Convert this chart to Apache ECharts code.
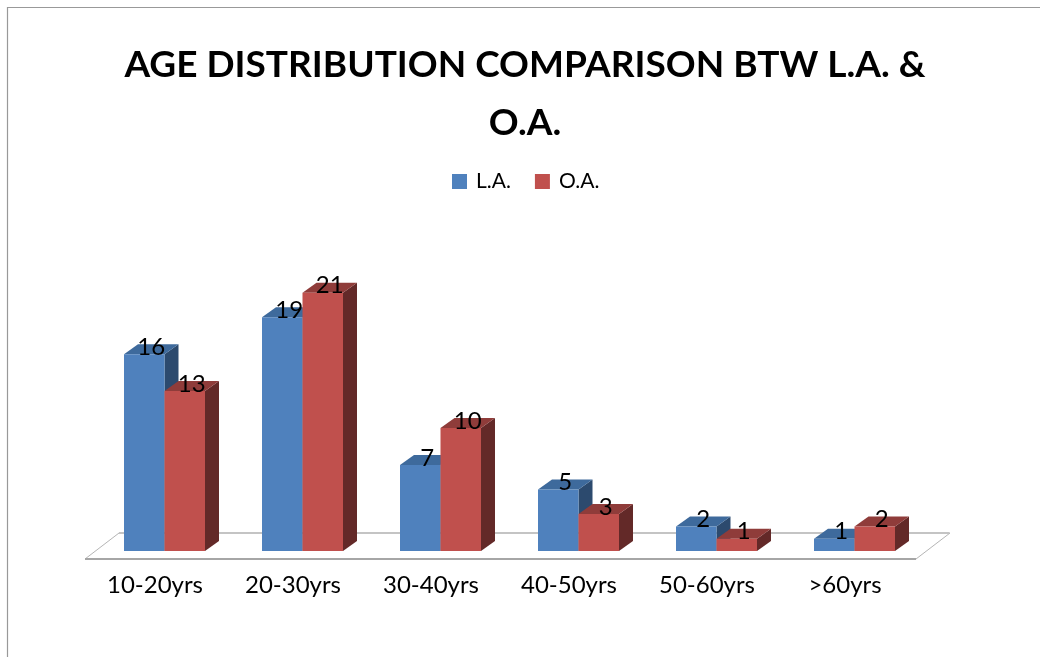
<!DOCTYPE html>
<html>
<head>
<meta charset="utf-8">
<style>html,body{margin:0;padding:0;background:#fff}#c{width:1040px;height:657px}</style>
<script src="https://cdn.jsdelivr.net/npm/echarts@6/dist/echarts.min.js"></script>
</head>
<body>
<div id="c"></div>
<script>
const titleText = 'AGE DISTRIBUTION COMPARISON BTW L.A. &\nO.A.';
const categories = ['10-20yrs', '20-30yrs', '30-40yrs', '40-50yrs', '50-60yrs', '>60yrs'];
const laValues = [16, 19, 7, 5, 2, 1];
const oaValues = [13, 21, 10, 3, 1, 2];

const FONT = 'Lato';
const DX = 14, DY = 10, BAR_W = 40.5, SHIFT = 9.5;

function barRenderer(slot, front, top, side) {
  return function (params, api) {
    const idx = api.value(0), val = api.value(1);
    const p = api.coord([idx, val]);
    const b = api.coord([idx, 0]);
    const x0 = p[0] + SHIFT + (slot === 0 ? -BAR_W : 0);
    const x1 = x0 + BAR_W, yT = p[1], yB = b[1];
    return {
      type: 'group',
      children: [
        { type: 'polygon', shape: { points: [[x1, yT], [x1 + DX, yT - DY], [x1 + DX, yB - DY], [x1, yB]] }, style: { fill: side } },
        { type: 'polygon', shape: { points: [[x0, yT], [x0 + DX, yT - DY], [x1 + DX, yT - DY], [x1, yT]] }, style: { fill: top } },
        { type: 'rect', shape: { x: x0, y: yT, width: BAR_W, height: yB - yT }, style: { fill: front } },
        { type: 'text', z2: 100, style: { x: (x0 + x1) / 2 + DX / 2, y: yT - DY / 2 - 2, text: String(val), fill: '#000', font: '24px ' + FONT, align: 'center', verticalAlign: 'middle' } }
      ]
    };
  };
}

function floorRenderer(params, api) {
  const cs = params.coordSys;
  const xL = cs.x - 1, xR = cs.x + cs.width + 2;
  const yF = api.coord([0, 0])[1] + 8, yB = yF - 26, d = 34;
  return {
    type: 'group',
    children: [
      { type: 'polyline', shape: { points: [[xL, yF], [xL + d, yB], [xR + d, yB], [xR, yF]] }, style: { fill: 'none', stroke: '#b5b5b5', lineWidth: 1 } },
      { type: 'line', shape: { x1: xL + d, y1: yB, x2: xR + d - 1, y2: yB }, style: { stroke: '#c4c4c4', lineWidth: 2 } },
      { type: 'line', shape: { x1: xL, y1: yF, x2: xR, y2: yF }, style: { stroke: '#a6a6a6', lineWidth: 2 } }
    ]
  };
}

const chart = echarts.init(document.getElementById('c'), null, { renderer: 'canvas' });
chart.setOption({
  animation: false,
  backgroundColor: '#fff',
  title: {
    text: titleText, left: 520, top: 31, textAlign: 'center',
    textStyle: { fontFamily: FONT, fontWeight: 'bold', fontSize: 37, lineHeight: 58, color: '#000' }
  },
  legend: {
    left: 447, top: 166, icon: 'rect', itemWidth: 15, itemHeight: 15, itemGap: 24,
    textStyle: { fontFamily: FONT, fontSize: 21, color: '#000', padding: [0, 0, 0, 4] },
    data: [{ name: 'L.A.', itemStyle: { color: '#4f81bd' } }, { name: 'O.A.', itemStyle: { color: '#c0504d' } }]
  },
  grid: { left: 86, top: 243.5, width: 828, height: 307.5 },
  xAxis: {
    type: 'category', data: categories,
    axisLine: { show: false }, axisTick: { show: false },
    axisLabel: { margin: 22, fontFamily: FONT, fontSize: 24, color: '#000', interval: 0 }
  },
  yAxis: { type: 'value', min: 0, max: 25, interval: 5, show: false, splitLine: { show: false } },
  graphic: [{
    type: 'polyline', silent: true, z: -1,
    shape: { points: [[7.5, 700], [7.5, 7.5], [1100, 7.5]] },
    style: { fill: 'none', stroke: '#999', lineWidth: 1.2 }
  }],
  series: [
    { type: 'custom', name: 'floor', silent: true, z: 1, renderItem: floorRenderer, data: [[0, 0]], encode: { x: 0, y: 1 } },
    { type: 'custom', name: 'L.A.', z: 2, itemStyle: { color: '#4f81bd' }, renderItem: barRenderer(0, '#4f81bd', '#3e6a9c', '#2c4a6e'), data: laValues.map((v, i) => [i, v]), encode: { x: 0, y: 1 } },
    { type: 'custom', name: 'O.A.', z: 2, itemStyle: { color: '#c0504d' }, renderItem: barRenderer(1, '#c0504d', '#8f3c3a', '#632928'), data: oaValues.map((v, i) => [i, v]), encode: { x: 0, y: 1 } }
  ]
});
</script>
</body>
</html>
